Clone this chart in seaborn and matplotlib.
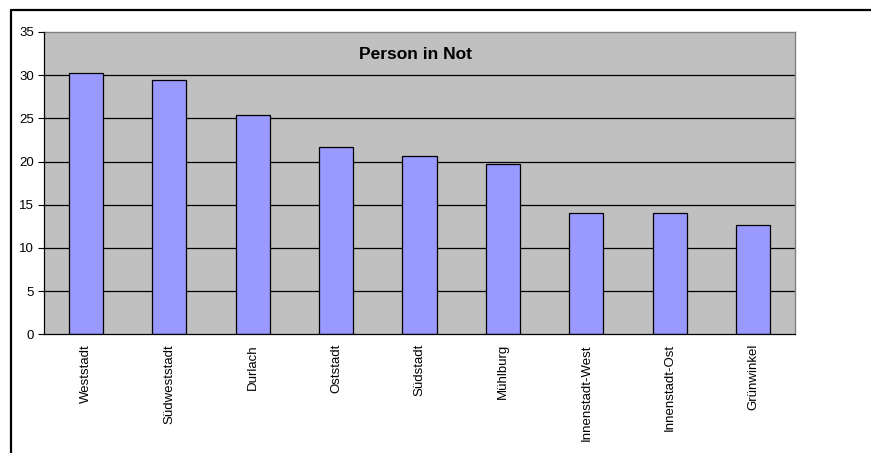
import matplotlib
matplotlib.use('Agg')
import matplotlib.pyplot as plt
import seaborn as sns
import pandas as pd
import numpy as np
from matplotlib.lines import Line2D

# --- Data ---
districts = ['Weststadt', 'Südweststadt', 'Durlach', 'Oststadt', 'Südstadt',
             'Mühlburg', 'Innenstadt-West', 'Innenstadt-Ost', 'Grünwinkel']
values = [30.3, 29.4, 25.4, 21.7, 20.7, 19.7, 14.0, 14.0, 12.6]
y_ticks = [0, 5, 10, 15, 20, 25, 30, 35]
title = 'Person in Not'

df = pd.DataFrame({'district': districts, 'value': values})

sns.set_style('white')
plt.rcParams['font.family'] = ['Liberation Sans', 'DejaVu Sans']
plt.rcParams['text.color'] = 'black'
plt.rcParams['xtick.color'] = 'black'
plt.rcParams['ytick.color'] = 'black'
plt.rcParams['xtick.labelcolor'] = 'black'
plt.rcParams['ytick.labelcolor'] = 'black'

fig = plt.figure(figsize=(8.71, 4.53), dpi=100)
ax = fig.add_axes([44 / 871, 1 - 334.3 / 453, 751 / 871, 302.3 / 453])
ax.set_facecolor('#C0C0C0')

sns.barplot(data=df, x='district', y='value', order=districts, color='#9999FF',
            width=0.41, edgecolor='black', linewidth=0.9, saturation=1, ax=ax,
            zorder=3)

ax.set_ylim(0, 35)
ax.set_xlim(-0.5, len(districts) - 0.5)
ax.set_yticks(y_ticks)
ax.set_yticklabels([str(t) for t in y_ticks], fontsize=9.5)
ax.set_xticks(range(len(districts)))
ax.set_xticklabels(districts, rotation=90, fontsize=9.5, va='top', ha='center')
ax.set_xticks(np.arange(-0.5, len(districts), 1.0), minor=True)
ax.tick_params(axis='x', which='major', length=0, pad=7)
ax.tick_params(axis='x', which='minor', length=4, width=0.8, color='black', direction='out')
ax.tick_params(axis='y', which='major', length=4, width=0.8, color='black',
               direction='out', pad=3, left=True)
ax.set_xlabel('')
ax.set_ylabel('')

# gridlines
for t in y_ticks[1:-1]:
    ax.axhline(t, color='black', linewidth=0.9, zorder=1)

for side in ['top', 'right']:
    ax.spines[side].set_color('#808080')
    ax.spines[side].set_linewidth(1.0)
for side in ['left', 'bottom']:
    ax.spines[side].set_color('black')
    ax.spines[side].set_linewidth(0.9)
    ax.spines[side].set_zorder(4)

ax.text(0.495, 0.924, title, transform=ax.transAxes, ha='center', va='center',
        fontsize=12.5, fontweight='bold', color='black')

# outer chart frame (cropped)
fig.add_artist(Line2D([11 / 871, 11 / 871], [0, 1 - 10 / 453], color='black',
                      linewidth=1.6, transform=fig.transFigure))
fig.add_artist(Line2D([11 / 871, 1], [1 - 10 / 453, 1 - 10 / 453], color='black',
                      linewidth=1.6, transform=fig.transFigure))

fig.savefig('out.png', dpi=100)
